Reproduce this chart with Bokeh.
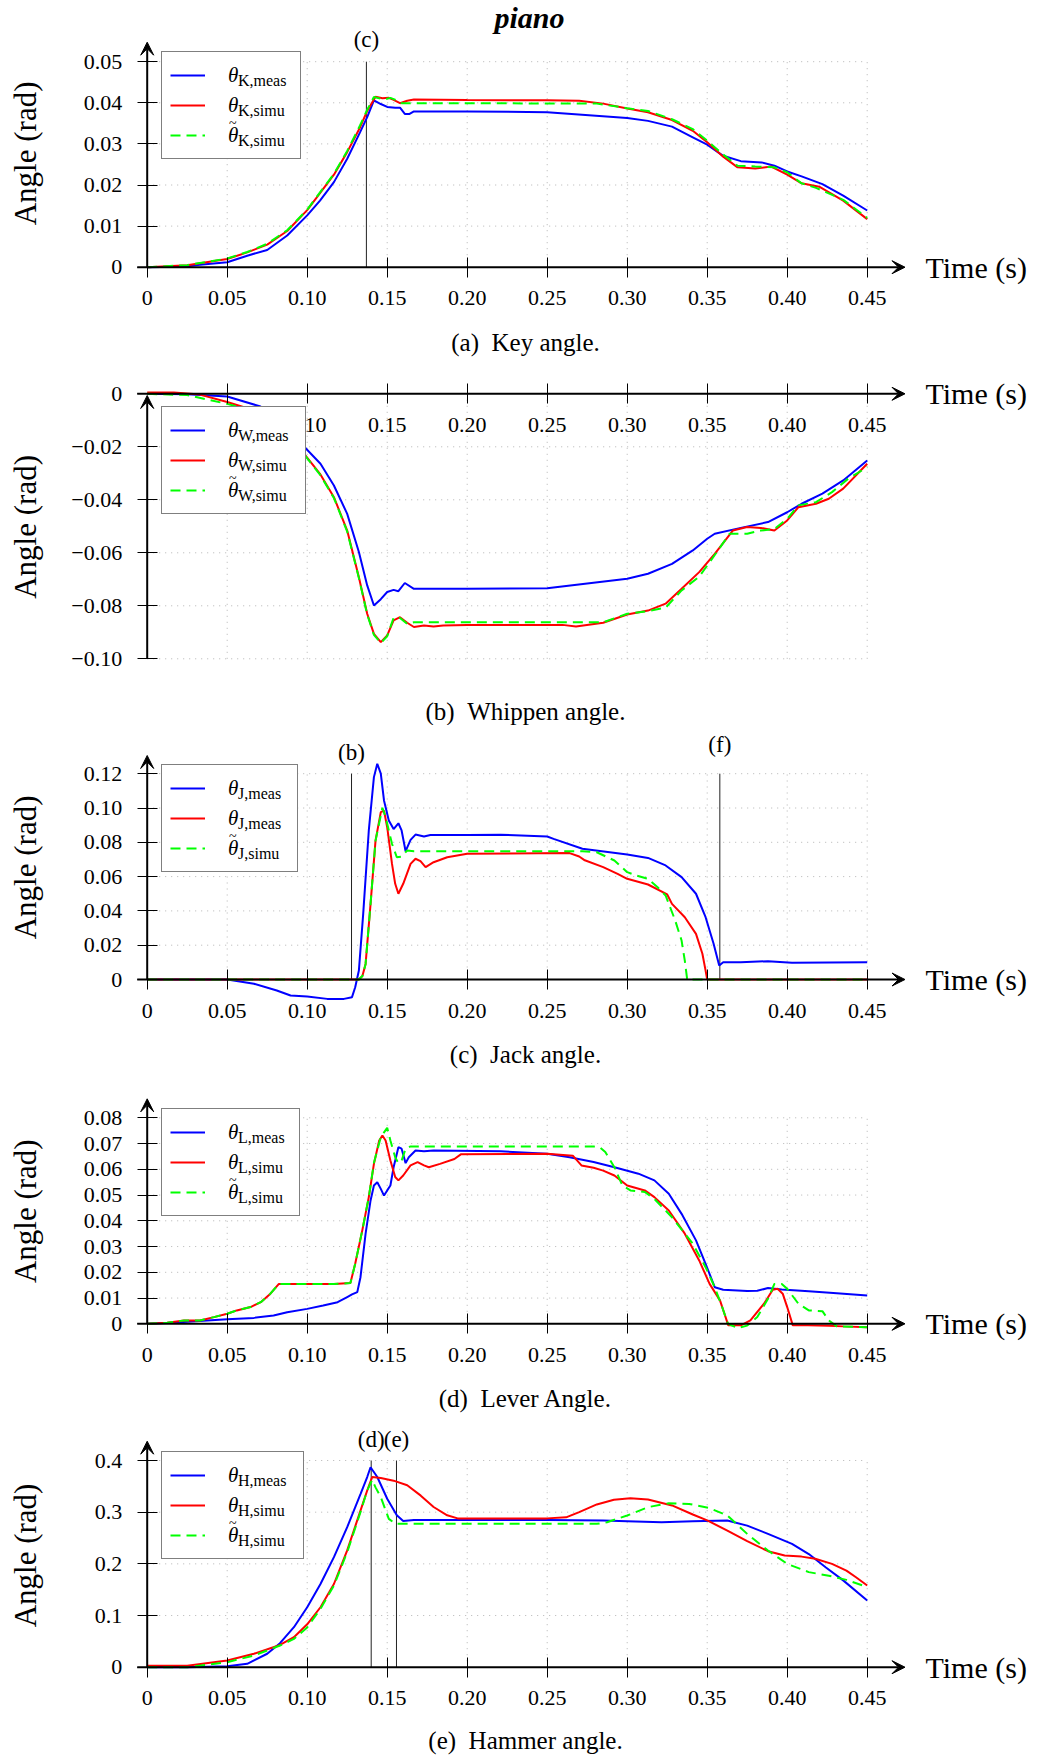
import math
from bokeh.plotting import figure
from bokeh.models import (Range1d, FixedTicker, Label, Legend, LegendItem,
                          Arrow, VeeHead)
from bokeh.layouts import column
from bokeh.embed import file_html
from bokeh.resources import INLINE

# ---------------- data ----------------
x_ticks = [0, 0.05, 0.10, 0.15, 0.20, 0.25, 0.30, 0.35, 0.40, 0.45]
x_tick_labels = ["0", "0.05", "0.10", "0.15", "0.20", "0.25", "0.30", "0.35", "0.40", "0.45"]

# (a) Key angle
ya_ticks = [0, 0.01, 0.02, 0.03, 0.04, 0.05]
ya_labels = ["0", "0.01", "0.02", "0.03", "0.04", "0.05"]
t_key_meas = [0, 0.025, 0.033, 0.05, 0.0625, 0.075, 0.0875, 0.1, 0.108, 0.1167, 0.125, 0.133, 0.1375,
              0.1417, 0.146, 0.15, 0.155, 0.158, 0.161, 0.164, 0.1667, 0.2, 0.25, 0.30, 0.313, 0.328,
              0.341, 0.35, 0.36, 0.371, 0.384, 0.392, 0.40, 0.409, 0.422, 0.435, 0.45]
key_meas = [0, 0.0002, 0.0006, 0.0012, 0.0028, 0.0042, 0.0077, 0.0126, 0.0162, 0.0207, 0.0264, 0.0328,
            0.0365, 0.0406, 0.0397, 0.039, 0.0388, 0.0388, 0.0373, 0.0373, 0.0379, 0.0379, 0.0377,
            0.0363, 0.0356, 0.0342, 0.0316, 0.0298, 0.0271, 0.0258, 0.0255, 0.0247, 0.0233, 0.0221,
            0.0202, 0.0174, 0.0138]
t_key_simu = [0, 0.025, 0.05, 0.0625, 0.075, 0.0875, 0.1, 0.108, 0.1167, 0.125, 0.133, 0.1375, 0.1427,
              0.147, 0.151, 0.154, 0.158, 0.1625, 0.1667, 0.2, 0.25, 0.27, 0.285, 0.30, 0.313, 0.328,
              0.341, 0.35, 0.36, 0.369, 0.38, 0.39, 0.40, 0.409, 0.42, 0.435, 0.45]
key_simu = [0, 0.0005, 0.002, 0.0036, 0.0055, 0.0088, 0.0139, 0.018, 0.0225, 0.028, 0.034, 0.038,
            0.0415, 0.0411, 0.0412, 0.0407, 0.0399, 0.0405, 0.0408, 0.0407, 0.0406, 0.0405, 0.0398,
            0.0386, 0.0377, 0.0358, 0.0332, 0.0304, 0.0269, 0.0243, 0.024, 0.0245, 0.0225, 0.0204,
            0.0196, 0.0162, 0.0117]
t_key_tilde = [0, 0.025, 0.05, 0.0625, 0.075, 0.0875, 0.1, 0.108, 0.1167, 0.125, 0.133, 0.1375, 0.1417,
               0.148, 0.152, 0.156, 0.159, 0.2, 0.281, 0.30, 0.313, 0.328, 0.341, 0.35, 0.36, 0.369,
               0.38, 0.392, 0.40, 0.409, 0.418, 0.435, 0.45]
key_tilde = [0, 0.0005, 0.0021, 0.0037, 0.0057, 0.009, 0.014, 0.0182, 0.0227, 0.0283, 0.0345, 0.0383,
             0.0414, 0.0408, 0.0412, 0.0406, 0.0399, 0.0399, 0.0398, 0.0387, 0.038, 0.036, 0.0336,
             0.0308, 0.0274, 0.0247, 0.0245, 0.0243, 0.0231, 0.0204, 0.0193, 0.0164, 0.012]

# (b) Whippen angle
yb_ticks = [-0.10, -0.08, -0.06, -0.04, -0.02, 0]
yb_labels = ["\u22120.10", "\u22120.08", "\u22120.06", "\u22120.04", "\u22120.02", "0"]
t_whip_meas = [0, 0.025, 0.05, 0.0708, 0.085, 0.098, 0.1083, 0.1167, 0.125, 0.1323, 0.1375, 0.1417,
               0.146, 0.15, 0.154, 0.157, 0.161, 0.1667, 0.2, 0.25, 0.30, 0.313, 0.328, 0.341, 0.35,
               0.3547, 0.371, 0.388, 0.40, 0.409, 0.422, 0.435, 0.45]
whip_meas = [0, -0.0002, -0.001, -0.0048, -0.011, -0.0199, -0.0264, -0.0346, -0.0453, -0.0597,
             -0.0723, -0.0799, -0.0775, -0.0748, -0.074, -0.0745, -0.0714, -0.0736, -0.0736, -0.0734,
             -0.0698, -0.0679, -0.0642, -0.0591, -0.0547, -0.0528, -0.0506, -0.0484, -0.0447,
             -0.0415, -0.0377, -0.0327, -0.0252]
t_whip_simu = [0, 0.0167, 0.033, 0.05, 0.06, 0.075, 0.087, 0.098, 0.108, 0.1167, 0.125, 0.1323, 0.1375,
               0.1417, 0.146, 0.15, 0.154, 0.158, 0.1625, 0.1667, 0.173, 0.179, 0.185, 0.2, 0.25,
               0.2596, 0.268, 0.285, 0.30, 0.313, 0.324, 0.334, 0.345, 0.3547, 0.366, 0.375, 0.3835,
               0.392, 0.40, 0.407, 0.418, 0.426, 0.435, 0.45]
whip_simu = [0.0005, 0.0005, -0.0003, -0.0031, -0.005, -0.009, -0.0145, -0.0226, -0.0302, -0.039,
             -0.0516, -0.0692, -0.083, -0.0906, -0.0937, -0.0912, -0.0855, -0.0843, -0.0864, -0.088,
             -0.0874, -0.0878, -0.0874, -0.0872, -0.0872, -0.0872, -0.0878, -0.0864, -0.0833,
             -0.0818, -0.0792, -0.0736, -0.0673, -0.0604, -0.0516, -0.0503, -0.0506, -0.0516,
             -0.0478, -0.0428, -0.0415, -0.0396, -0.0358, -0.0264]
t_whip_tilde = [0, 0.025, 0.05, 0.06, 0.075, 0.087, 0.098, 0.108, 0.1167, 0.125, 0.1323, 0.1375, 0.1417,
                0.146, 0.15, 0.154, 0.158, 0.1625, 0.1667, 0.2, 0.285, 0.30, 0.313, 0.324, 0.334,
                0.345, 0.353, 0.364, 0.375, 0.3835, 0.392, 0.40, 0.407, 0.418, 0.428, 0.438, 0.45]
whip_tilde = [0, -0.0005, -0.0038, -0.0055, -0.0095, -0.015, -0.0228, -0.0305, -0.0393, -0.052,
              -0.0695, -0.0833, -0.091, -0.094, -0.0915, -0.0845, -0.0846, -0.0868, -0.0862, -0.0862,
              -0.0862, -0.083, -0.082, -0.0807, -0.0742, -0.069, -0.0623, -0.0528, -0.0528, -0.0516,
              -0.051, -0.0472, -0.0421, -0.0409, -0.0371, -0.0321, -0.0277]

# (c) Jack angle
yc_ticks = [0, 0.02, 0.04, 0.06, 0.08, 0.10, 0.12]
yc_labels = ["0", "0.02", "0.04", "0.06", "0.08", "0.10", "0.12"]
t_jack_meas = [0, 0.05, 0.0667, 0.081, 0.0896, 0.1, 0.1125, 0.123, 0.128, 0.13, 0.1323, 0.135, 0.1385,
               0.1417, 0.1438, 0.146, 0.148, 0.151, 0.154, 0.157, 0.159, 0.1615, 0.1646, 0.1677, 0.173,
               0.177, 0.2, 0.221, 0.25, 0.254, 0.272, 0.30, 0.313, 0.324, 0.334, 0.343, 0.349, 0.354,
               0.3575, 0.36, 0.371, 0.388, 0.403, 0.45]
jack_meas = [0, 0, -0.0025, -0.0064, -0.0093, -0.0099, -0.0113, -0.0113, -0.0103, -0.0045, 0.0052,
             0.0383, 0.0869, 0.118, 0.1258, 0.12, 0.1044, 0.0927, 0.0877, 0.0911, 0.0869, 0.0748,
             0.0814, 0.0845, 0.0834, 0.0842, 0.0843, 0.0844, 0.0834, 0.082, 0.0762, 0.0729, 0.0709,
             0.0665, 0.0597, 0.05, 0.0363, 0.0208, 0.0082, 0.0101, 0.0101, 0.0107, 0.0097, 0.0101]
t_jack_simu = [0, 0.1323, 0.1345, 0.1365, 0.1396, 0.1427, 0.146, 0.148, 0.15, 0.153, 0.155, 0.157,
               0.16, 0.1646, 0.1677, 0.1708, 0.174, 0.179, 0.1875, 0.2, 0.264, 0.27, 0.2735, 0.285,
               0.294, 0.30, 0.313, 0.325, 0.328, 0.336, 0.343, 0.347, 0.349, 0.35, 0.45]
jack_simu = [0, 0, 0.002, 0.0091, 0.0441, 0.081, 0.0976, 0.0985, 0.0888, 0.0674, 0.0558, 0.05, 0.0558,
             0.0674, 0.0704, 0.069, 0.0655, 0.0684, 0.0713, 0.0733, 0.0737, 0.0717, 0.0695, 0.0655,
             0.0616, 0.0587, 0.0554, 0.0496, 0.0441, 0.0363, 0.0266, 0.015, 0.0052, 0, 0]
t_jack_tilde = [0, 0.1323, 0.1345, 0.1365, 0.1396, 0.1427, 0.147, 0.149, 0.153, 0.156, 0.159, 0.1625,
                0.1667, 0.272, 0.281, 0.292, 0.30, 0.306, 0.313, 0.319, 0.324, 0.33, 0.334, 0.336,
                0.3375, 0.45]
jack_tilde = [0, 0, 0.002, 0.0091, 0.0441, 0.081, 0.1001, 0.0947, 0.0791, 0.0713, 0.0717, 0.0752,
              0.0748, 0.0748, 0.0742, 0.0694, 0.0626, 0.0606, 0.0587, 0.0538, 0.049, 0.0344, 0.0227,
              0.011, 0, 0]

# (d) Lever angle
yd_ticks = [0, 0.01, 0.02, 0.03, 0.04, 0.05, 0.06, 0.07, 0.08]
yd_labels = ["0", "0.01", "0.02", "0.03", "0.04", "0.05", "0.06", "0.07", "0.08"]
t_lever_meas = [0, 0.0125, 0.025, 0.05, 0.0667, 0.079, 0.0875, 0.1, 0.11, 0.119, 0.125, 0.128, 0.1313,
                0.1333, 0.1365, 0.1396, 0.1417, 0.1438, 0.146, 0.148, 0.15, 0.152, 0.154, 0.157, 0.159,
                0.1615, 0.1635, 0.1677, 0.173, 0.179, 0.221, 0.25, 0.264, 0.279, 0.292, 0.307, 0.317,
                0.326, 0.334, 0.343, 0.349, 0.3547, 0.36, 0.375, 0.3813, 0.388, 0.3966, 0.4135,
                0.431, 0.45]
lever_meas = [0, 0.0003, 0.0008, 0.0018, 0.0023, 0.0032, 0.0045, 0.0058, 0.0071, 0.0084, 0.0104,
              0.0114, 0.0123, 0.0181, 0.035, 0.0479, 0.0537, 0.055, 0.0524, 0.0498, 0.0518, 0.0537,
              0.0608, 0.0686, 0.068, 0.0624, 0.0647, 0.0673, 0.067, 0.0673, 0.067, 0.066, 0.0647,
              0.0628, 0.0608, 0.0583, 0.0557, 0.0505, 0.0427, 0.0324, 0.0233, 0.0142, 0.0132, 0.0127,
              0.0128, 0.0139, 0.0133, 0.0126, 0.0119, 0.011]
t_lever_simu = [0, 0.0125, 0.023, 0.033, 0.0417, 0.05, 0.056, 0.0646, 0.071, 0.077, 0.0823, 0.1167,
                0.127, 0.13, 0.1344, 0.1385, 0.1417, 0.145, 0.147, 0.149, 0.152, 0.155, 0.157, 0.16,
                0.1646, 0.169, 0.173, 0.176, 0.183, 0.192, 0.196, 0.25, 0.266, 0.2714, 0.279, 0.285,
                0.292, 0.30, 0.311, 0.317, 0.326, 0.336, 0.345, 0.3515, 0.358, 0.3632, 0.371, 0.377,
                0.3855, 0.391, 0.394, 0.3972, 0.40, 0.4035, 0.413, 0.426, 0.435, 0.45]
lever_simu = [0, 0.0004, 0.0013, 0.0013, 0.0026, 0.0039, 0.0052, 0.0065, 0.0084, 0.0117, 0.0155,
              0.0155, 0.0158, 0.0233, 0.0362, 0.0492, 0.0621, 0.0712, 0.0731, 0.0712, 0.0634, 0.057,
              0.0557, 0.0576, 0.0615, 0.0628, 0.0615, 0.0608, 0.0621, 0.064, 0.0658, 0.066, 0.0653,
              0.0615, 0.0606, 0.0595, 0.0576, 0.0537, 0.0518, 0.0492, 0.044, 0.035, 0.0246, 0.0155,
              0.0091, -0.0006, -0.0006, 0.0013, 0.0078, 0.0132, 0.0136, 0.0117, 0.0065, -0.0006,
              -0.0006, -0.0008, -0.001, -0.0013]
t_lever_tilde = [0, 0.0125, 0.023, 0.033, 0.0417, 0.05, 0.056, 0.0646, 0.071, 0.077, 0.0823, 0.1167,
                 0.127, 0.13, 0.1344, 0.1385, 0.1417, 0.146, 0.15, 0.152, 0.155, 0.157, 0.159, 0.1615,
                 0.1646, 0.279, 0.2833, 0.2863, 0.292, 0.297, 0.302, 0.311, 0.317, 0.328, 0.341,
                 0.349, 0.3547, 0.359, 0.363, 0.369, 0.375, 0.3813, 0.388, 0.392, 0.3966, 0.40,
                 0.407, 0.4135, 0.422, 0.426, 0.431, 0.45]
lever_tilde = [0, 0.0004, 0.0013, 0.0013, 0.0026, 0.0039, 0.0052, 0.0065, 0.0084, 0.0117, 0.0155,
               0.0155, 0.0158, 0.0233, 0.0362, 0.0492, 0.0625, 0.0725, 0.0761, 0.0712, 0.0647, 0.0624,
               0.0634, 0.068, 0.0689, 0.0689, 0.0683, 0.0667, 0.0608, 0.0537, 0.0518, 0.0512, 0.0485,
               0.0414, 0.0311, 0.022, 0.0142, 0.0071, 0, -0.0016, -0.0007, 0.0026, 0.0097, 0.0155,
               0.0155, 0.0136, 0.0078, 0.0052, 0.0049, 0.0013, -0.001, -0.0013]

# (e) Hammer angle
ye_ticks = [0, 0.1, 0.2, 0.3, 0.4]
ye_labels = ["0", "0.1", "0.2", "0.3", "0.4"]
t_ham_meas = [0, 0.025, 0.05, 0.0625, 0.075, 0.083, 0.0917, 0.1, 0.1083, 0.1167, 0.125, 0.1333, 0.1375,
              0.1396, 0.1438, 0.15, 0.156, 0.16, 0.1667, 0.25, 0.285, 0.30, 0.3215, 0.341, 0.3626,
              0.375, 0.388, 0.403, 0.4135, 0.424, 0.435, 0.45]
ham_meas = [0, 0, 0.002, 0.0065, 0.026, 0.0465, 0.0774, 0.116, 0.161, 0.213, 0.271, 0.335, 0.368, 0.387,
            0.368, 0.326, 0.294, 0.283, 0.285, 0.285, 0.284, 0.2826, 0.2806, 0.2826, 0.2839, 0.274,
            0.258, 0.2387, 0.219, 0.1935, 0.168, 0.129]
t_ham_simu = [0, 0.025, 0.05, 0.0667, 0.083, 0.0917, 0.1, 0.1083, 0.1167, 0.125, 0.1333, 0.1375, 0.1406,
              0.146, 0.154, 0.1625, 0.171, 0.179, 0.1875, 0.194, 0.2, 0.25, 0.2618, 0.27, 0.281,
              0.2917, 0.302, 0.313, 0.328, 0.341, 0.35, 0.3626, 0.375, 0.388, 0.3984, 0.409, 0.4175,
              0.428, 0.437, 0.443, 0.45]
ham_simu = [0.003, 0.003, 0.0129, 0.026, 0.043, 0.058, 0.083, 0.116, 0.161, 0.226, 0.303, 0.342, 0.368,
            0.366, 0.361, 0.352, 0.332, 0.31, 0.294, 0.288, 0.288, 0.288, 0.29, 0.3, 0.315, 0.324,
            0.327, 0.3245, 0.313, 0.2955, 0.284, 0.2645, 0.244, 0.2245, 0.216, 0.214, 0.21, 0.2, 0.187,
            0.174, 0.158]
t_ham_tilde = [0, 0.025, 0.05, 0.0667, 0.083, 0.0917, 0.1, 0.1083, 0.1167, 0.125, 0.1333, 0.1375,
               0.1406, 0.1427, 0.146, 0.151, 0.1552, 0.281, 0.2874, 0.30, 0.313, 0.326, 0.3387,
               0.3513, 0.3626, 0.375, 0.388, 0.40, 0.4135, 0.426, 0.437, 0.45]
ham_tilde = [0, 0, 0.0097, 0.0226, 0.042, 0.0548, 0.077, 0.113, 0.158, 0.2226, 0.3, 0.342, 0.3626, 0.348,
             0.329, 0.287, 0.2774, 0.2774, 0.2806, 0.2935, 0.3097, 0.3174, 0.316, 0.308, 0.2935,
             0.258, 0.2258, 0.2, 0.184, 0.177, 0.169, 0.155]

marks_a = [0.137]
marks_a_labels = ["(c)"]
marks_c = [0.1277, 0.3579]
marks_c_labels = ["(b)", "(f)"]
marks_e = [0.140, 0.1558]
marks_e_labels = ["(d)", "(e)"]

# ---------------- styling / layout ----------------
FONT = "Liberation Serif"
BLUE, RED, GREEN = "#0000ff", "#ff0000", "#00ff00"
W = 1037
PAGE_X = 0
X0 = 146.7      # page px of t = 0
SX = 1600.0     # px per second
LEG_H = 106
LEG_X = 161


def build_panel(lay, xt, xtl, yt, ytl, series, leg_labels, subs, caption,
                marks=None, mark_labels=None, mark_label_dy=None, title=None):
    top, h, y0, s = lay["top"], lay["h"], lay["y0"], lay["s"]
    bottom = top + h

    def X(px):
        return (px - X0) / SX

    def Y(py):
        return (y0 - py) / s

    p = figure(width=W, height=h, x_range=Range1d(X(PAGE_X), X(PAGE_X + W)),
               y_range=Range1d(Y(bottom), Y(top)), output_backend="svg",
               toolbar_location=None, min_border=0, outline_line_color=None,
               background_fill_color="white", border_fill_color="white")
    p.xgrid.visible = False
    p.ygrid.visible = False

    # dotted grid
    gx = [t for t in x_ticks if t != 0]
    gy = [v for v in yt if v != 0]
    ymin, ymax = min(yt), max(yt)
    g1 = p.segment(x0=gx, y0=[ymin] * len(gx), x1=gx, y1=[ymax] * len(gx),
                   line_color="#b4b4b4", line_dash="1 5", line_width=1)
    g2 = p.segment(x0=[0] * len(gy), y0=gy, x1=[x_ticks[-1]] * len(gy), y1=gy,
                   line_color="#b4b4b4", line_dash="1 5", line_width=1)
    g1.level = "underlay"
    g2.level = "underlay"

    # axes (ticks + labels) crossing at the origin
    xa = p.xaxis[0]
    ya = p.yaxis[0]
    xa.fixed_location = 0
    ya.fixed_location = 0
    xa.ticker = FixedTicker(ticks=xt)
    ya.ticker = FixedTicker(ticks=yt)
    xa.major_label_overrides = dict(zip(xt, xtl))
    ya.major_label_overrides = dict(zip(yt, ytl))
    for ax, sto in ((xa, 14), (ya, 15)):
        ax.axis_line_color = None
        ax.major_tick_in = 10
        ax.major_tick_out = 10
        ax.major_tick_line_color = "black"
        ax.major_tick_line_width = 1
        ax.minor_tick_line_color = None
        ax.major_label_standoff = sto
        ax.major_label_text_font = FONT
        ax.major_label_text_font_size = "22px"
        ax.major_label_text_color = "black"

    # arrows for the axis lines
    p.add_layout(Arrow(end=VeeHead(size=13, fill_color="black", line_color="black"),
                       x_start=X(136.7), y_start=0, x_end=X(904.5), y_end=0,
                       line_width=2, line_color="black"))
    p.add_layout(Arrow(end=VeeHead(size=13, fill_color="black", line_color="black"),
                       x_start=0, y_start=lay["yax_start"], x_end=0, y_end=Y(lay["yax_tip"]),
                       line_width=2, line_color="black"))

    # event markers
    if marks:
        p.segment(x0=marks, y0=[0] * len(marks), x1=marks, y1=[ymax] * len(marks),
                  line_color="#222222", line_width=1)
        for m, lab, dy in zip(marks, mark_labels, mark_label_dy):
            p.add_layout(Label(x=m, y=ymax, y_offset=dy, text=lab, text_font=FONT,
                               text_font_size="23px", text_align="center",
                               text_baseline="middle", text_color="black"))

    # curves
    rs = []
    for (tt, vv), col, dash in zip(series, (BLUE, RED, GREEN), ("solid", "solid", "10 6")):
        rs.append(p.line(tt, vv, line_color=col, line_width=2, line_dash=dash))

    # legend: box + line samples + italic theta
    lt = lay["leg_top"]
    items = [LegendItem(label=lab, renderers=[r]) for lab, r in zip(leg_labels, rs)]
    leg = Legend(items=items,
                 location=(LEG_X - PAGE_X, int(round(bottom - (lt + LEG_H)))),
                 padding=8, spacing=0, margin=0, glyph_width=35, glyph_height=30,
                 label_height=30, label_standoff=23,
                 label_width=int(round(lay["leg_w"] - 16 - 35 - 23)),
                 label_text_font=FONT, label_text_font_style="italic",
                 label_text_font_size="21px", label_text_color="black",
                 border_line_color="black", border_line_width=1,
                 background_fill_color="white", background_fill_alpha=1.0)
    p.add_layout(leg)
    # subscripts: a transparent second legend laid over the first
    sub_items = [LegendItem(label=sb, renderers=[r]) for sb, r in zip(subs, rs)]
    leg2 = Legend(items=sub_items,
                  location=(LEG_X + 8 + 35 + 23 + 11 - PAGE_X, int(round(bottom - (lt + 13 + 90)))),
                  padding=0, spacing=0, margin=0, glyph_width=0, glyph_height=30,
                  label_height=30, label_standoff=0,
                  label_text_font=FONT, label_text_font_size="16px", label_text_color="black",
                  border_line_color=None, background_fill_alpha=0.0)
    p.add_layout(leg2)
    # tilde accent over the third theta
    tilde_item = [LegendItem(label="~", renderers=[rs[2]])]
    row3_c = lt + 8 + 15 + 60
    leg3 = Legend(items=tilde_item,
                  location=(LEG_X + 8 + 35 + 23 + 2 - PAGE_X, int(round(bottom - (row3_c - 12 + 8)))),
                  padding=0, spacing=0, margin=0, glyph_width=0, glyph_height=16,
                  label_height=16, label_standoff=0,
                  label_text_font=FONT, label_text_font_size="14px", label_text_color="black",
                  border_line_color=None, background_fill_alpha=0.0)
    p.add_layout(leg3)

    # axis titles
    p.add_layout(Label(x=X(925), y=0, text="Time (s)", text_font=FONT, text_font_size="30px",
                       text_align="left", text_baseline="middle", text_color="black"))
    p.add_layout(Label(x=X(24.6), y=Y(lay["ylab_y"]), text="Angle (rad)", angle=math.pi / 2,
                       text_font=FONT, text_font_size="31px", text_align="center",
                       text_baseline="middle", text_color="black"))
    # caption
    p.add_layout(Label(x=X(525), y=Y(lay["cap_y"]), text=caption, text_font=FONT,
                       text_font_size="25px", text_align="center", text_baseline="middle",
                       text_color="black"))
    if title:
        p.add_layout(Label(x=X(529), y=Y(17), text=title, text_font=FONT,
                           text_font_size="30px", text_font_style="bold italic",
                           text_align="center", text_baseline="middle", text_color="black"))
    return p


lay_a = dict(top=0, h=360, y0=266.7, s=4110, yax_start=0, yax_tip=41.7, leg_top=53.3,
             leg_w=138.3, ylab_y=152.9, cap_y=341.6)
lay_b = dict(top=360, h=365, y0=393.3, s=2650, yax_start=-0.10, yax_tip=395, leg_top=407.7,
             leg_w=142.6, ylab_y=526.4, cap_y=711)
lay_c = dict(top=725, h=345, y0=979, s=1715, yax_start=0, yax_tip=755, leg_top=766,
             leg_w=135.3, ylab_y=866.9, cap_y=1054)
lay_d = dict(top=1070, h=345, y0=1323.3, s=2575, yax_start=0, yax_tip=1098.3, leg_top=1110,
             leg_w=137, ylab_y=1210.7, cap_y=1397.8)
lay_e = dict(top=1415, h=341, y0=1666.7, s=516.75, yax_start=0, yax_tip=1440.7, leg_top=1453.3,
             leg_w=141, ylab_y=1555, cap_y=1740)

TH = "\u03b8"
pa = build_panel(lay_a, x_ticks, x_tick_labels, ya_ticks, ya_labels,
                 [(t_key_meas, key_meas), (t_key_simu, key_simu), (t_key_tilde, key_tilde)],
                 [TH, TH, TH], ["K,meas", "K,simu", "K,simu"],
                 "(a)\u2002Key angle.", marks_a, marks_a_labels, [22], title="piano")
pb = build_panel(lay_b, x_ticks[1:], x_tick_labels[1:], yb_ticks, yb_labels,
                 [(t_whip_meas, whip_meas), (t_whip_simu, whip_simu), (t_whip_tilde, whip_tilde)],
                 [TH, TH, TH], ["W,meas", "W,simu", "W,simu"],
                 "(b)\u2002Whippen angle.")
pc = build_panel(lay_c, x_ticks, x_tick_labels, yc_ticks, yc_labels,
                 [(t_jack_meas, jack_meas), (t_jack_simu, jack_simu), (t_jack_tilde, jack_tilde)],
                 [TH, TH, TH], ["J,meas", "J,meas", "J,simu"],
                 "(c)\u2002Jack angle.", marks_c, marks_c_labels, [21, 29])
pd_ = build_panel(lay_d, x_ticks, x_tick_labels, yd_ticks, yd_labels,
                  [(t_lever_meas, lever_meas), (t_lever_simu, lever_simu), (t_lever_tilde, lever_tilde)],
                  [TH, TH, TH], ["L,meas", "L,simu", "L,simu"],
                  "(d)\u2002Lever Angle.")
pe = build_panel(lay_e, x_ticks, x_tick_labels, ye_ticks, ye_labels,
                 [(t_ham_meas, ham_meas), (t_ham_simu, ham_simu), (t_ham_tilde, ham_tilde)],
                 [TH, TH, TH], ["H,meas", "H,simu", "H,simu"],
                 "(e)\u2002Hammer angle.", marks_e, marks_e_labels, [21, 21])

layout = column(pa, pb, pc, pd_, pe, spacing=0)
open("out.html", "w").write(file_html(layout, INLINE))
